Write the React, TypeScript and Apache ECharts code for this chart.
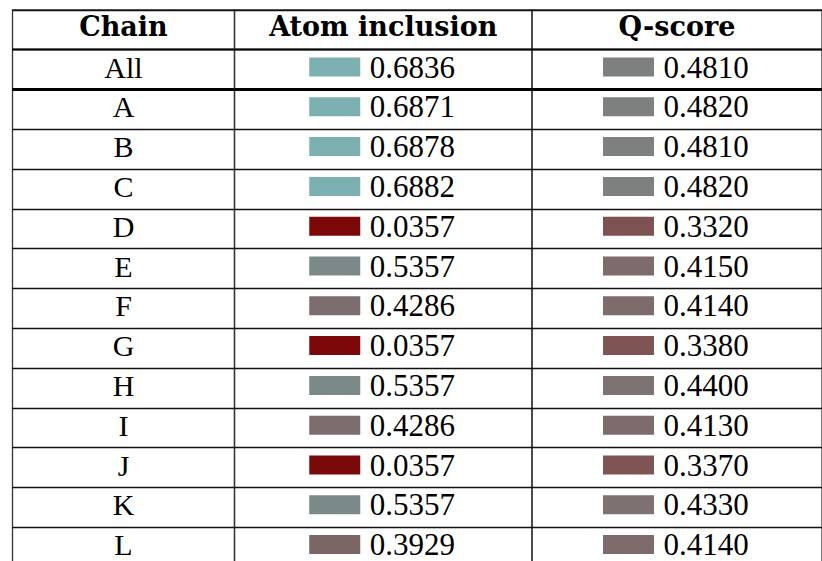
import React, { useEffect, useRef } from "react";
import * as echarts from "echarts";

const headers = ["Chain", "Atom inclusion", "Q-score"];
const rows = ["All", "A", "B", "C", "D", "E", "F", "G", "H", "I", "J", "K", "L"];
const atomInclusion = [0.6836, 0.6871, 0.6878, 0.6882, 0.0357, 0.5357, 0.4286, 0.0357, 0.5357, 0.4286, 0.0357, 0.5357, 0.3929];
const qScore = [0.481, 0.482, 0.481, 0.482, 0.332, 0.415, 0.414, 0.338, 0.44, 0.413, 0.337, 0.433, 0.414];

const yCats = ["header", ...rows];
const BODY_FONT = "30px 'Liberation Serif', 'Times New Roman', serif";
const NUM_FONT = "31px 'Liberation Serif', 'Times New Roman', serif";

const clamp = (x: number) => Math.max(0, Math.min(255, Math.round(x)));
const atomColor = (v: number) => {
  const g = clamp(256 * v);
  return `rgb(124,${g},${g})`;
};
const qColor = (q: number) => {
  const g = clamp(127 + (q - 0.481) * 300);
  return `rgb(126,${g},${g})`;
};

const lefts = [12.5, 234.5, 532];
const widths = [222, 297.5, 298];
const TOP = 9.8;
const ROW_H = 39.8;

function makeRender(kind: "chain" | "atom" | "q") {
  return (params: any, api: any) => {
    const c = api.coord([api.value(0), api.value(1)]);
    const s = api.size([1, 1]);
    const cx = c[0];
    const cy = c[1];
    const children: any[] = [];
    if (kind === "chain") {
      children.push({
        type: "text",
        x: cx,
        y: cy - 2.5,
        style: { text: rows[params.dataIndex], font: BODY_FONT, fill: "#000", align: "center", verticalAlign: "middle" },
      });
    } else {
      const v = api.value(2);
      children.push({
        type: "rect",
        shape: { x: cx - 74, y: cy - 12, width: 51, height: 19 },
        style: { fill: kind === "atom" ? atomColor(v) : qColor(v) },
      });
      children.push({
        type: "text",
        x: cx - 13.5,
        y: cy - 2.5,
        style: { text: v.toFixed(4), font: NUM_FONT, fill: "#000", align: "left", verticalAlign: "middle" },
      });
    }
    if (params.dataIndex === 0) {
      children.push({
        type: "line",
        shape: { x1: cx - s[0] / 2, y1: cy - s[1] / 2, x2: cx + s[0] / 2, y2: cy - s[1] / 2 },
        style: { stroke: "#000", lineWidth: 2 },
      });
      children.push({
        type: "line",
        shape: { x1: cx - s[0] / 2, y1: cy + s[1] / 2, x2: cx + s[0] / 2, y2: cy + s[1] / 2 },
        style: { stroke: "#000", lineWidth: 3 },
      });
    }
    return { type: "group", children };
  };
}

export default function App() {
  const ref = useRef<HTMLDivElement>(null);
  useEffect(() => {
    const chart = echarts.init(ref.current!, null, { renderer: "svg" });
    const grids = lefts.map((l, i) => ({
      left: l,
      top: TOP,
      width: widths[i],
      height: ROW_H * yCats.length,
      show: true,
      borderColor: "#333",
      borderWidth: 1.3,
      backgroundColor: "transparent",
    }));
    const xAxes = headers.map((h, i) => ({
      type: "category" as const,
      gridIndex: i,
      data: [h],
      position: "top" as const,
      axisLine: { show: false },
      axisTick: { show: false },
      splitLine: { show: false },
      axisLabel: {
        inside: true,
        margin: 17,
        verticalAlign: "middle",
        color: "#000",
        fontFamily: "'DejaVu Serif', serif",
        fontWeight: "bold",
        fontSize: 27,
        interval: 0,
      },
    }));
    const yAxes = headers.map((_, i) => ({
      type: "category" as const,
      gridIndex: i,
      data: yCats,
      inverse: true,
      axisLine: { show: false },
      axisTick: { show: false },
      axisLabel: { show: false, interval: 0 },
      splitLine: { show: true, interval: 0, lineStyle: { color: "#111", width: 1.3 } },
    }));
    const series = [
      {
        type: "custom" as const,
        xAxisIndex: 0,
        yAxisIndex: 0,
        data: rows.map((_, i) => [0, i + 1]),
        encode: { x: 0, y: 1 },
        renderItem: makeRender("chain"),
      },
      {
        type: "custom" as const,
        xAxisIndex: 1,
        yAxisIndex: 1,
        data: atomInclusion.map((v, i) => [0, i + 1, v]),
        encode: { x: 0, y: 1 },
        renderItem: makeRender("atom"),
      },
      {
        type: "custom" as const,
        xAxisIndex: 2,
        yAxisIndex: 2,
        data: qScore.map((v, i) => [0, i + 1, v]),
        encode: { x: 0, y: 1 },
        renderItem: makeRender("q"),
      },
    ];
    chart.setOption({
      animation: false,
      backgroundColor: "#fff",
      grid: grids,
      xAxis: xAxes,
      yAxis: yAxes,
      series,
    });
    return () => chart.dispose();
  }, []);
  return (
    <div style={{ position: "absolute", left: 0, top: 0, width: 822, height: 561, overflow: "hidden", background: "#fff" }}>
      <div ref={ref} style={{ width: 822, height: 620 }} />
    </div>
  );
}
